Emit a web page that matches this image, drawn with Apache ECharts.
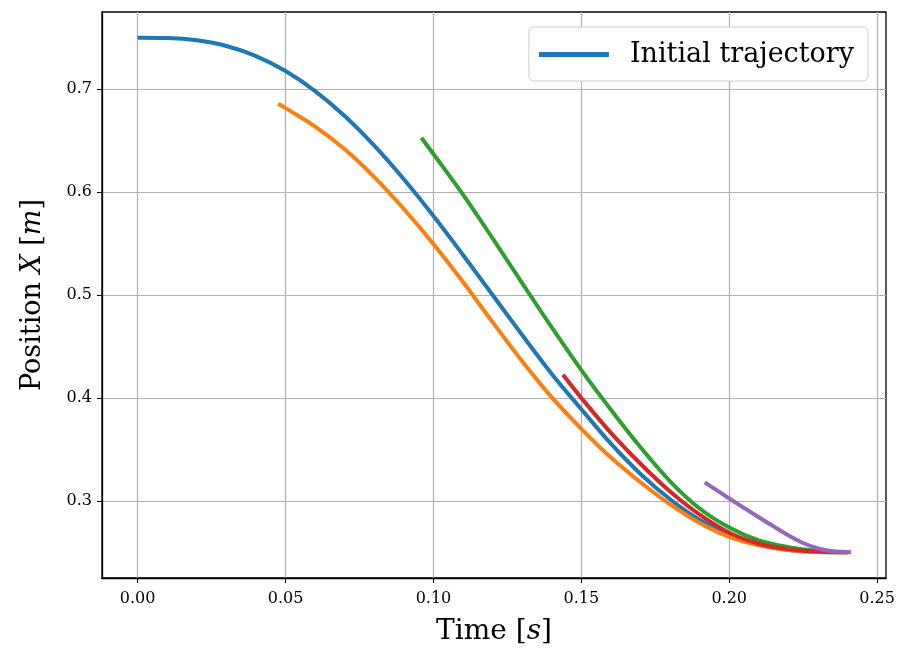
<!DOCTYPE html>
<html>
<head>
<meta charset="utf-8">
<script src="https://cdn.jsdelivr.net/npm/echarts@6/dist/echarts.min.js"></script>
<style>
  html, body { margin: 0; padding: 0; background: #fff; }
  #chart { width: 898px; height: 655px; }
</style>
</head>
<body>
<div id="chart"></div>
<script>
// tick values
const xTicks = [0, 0.05, 0.10, 0.15, 0.20, 0.25];
const yTicks = [0.3, 0.4, 0.5, 0.6, 0.7];

// initial trajectory (blue)
const initT = [0, 0.01, 0.02, 0.03, 0.04, 0.05, 0.06, 0.07, 0.08, 0.09, 0.10, 0.11, 0.12,
  0.13, 0.14, 0.15, 0.16, 0.17, 0.18, 0.19, 0.20, 0.21, 0.22, 0.23, 0.24];
const initX = [0.7500, 0.7497, 0.7475, 0.7420, 0.7322, 0.7177, 0.6982, 0.6739, 0.6451, 0.6124,
  0.5767, 0.5389, 0.5000, 0.4611, 0.4233, 0.3890, 0.3555, 0.3261, 0.3015, 0.2815, 0.2670,
  0.2575, 0.2522, 0.2503, 0.2500];

// replanned trajectories
const replan1T = [0.0475, 0.05, 0.06, 0.07, 0.08, 0.09, 0.10, 0.11, 0.12, 0.13, 0.14, 0.15,
  0.16, 0.17, 0.18, 0.19, 0.20, 0.21, 0.22, 0.23, 0.24];
const replan1X = [0.6858, 0.6816, 0.6636, 0.6416, 0.6146, 0.5836, 0.5496, 0.5126, 0.4736, 0.4356,
  0.4005, 0.3700, 0.3420, 0.3180, 0.2965, 0.2785, 0.2650, 0.2568, 0.2523, 0.2505, 0.2500];

const replan2T = [0.0959, 0.10, 0.11, 0.12, 0.13, 0.14, 0.15, 0.16, 0.17, 0.18, 0.19, 0.20,
  0.21, 0.22, 0.23, 0.24];
const replan2X = [0.6528, 0.6370, 0.5975, 0.5550, 0.5115, 0.4685, 0.4270, 0.3885, 0.3520, 0.3190,
  0.2925, 0.2740, 0.2615, 0.2550, 0.2513, 0.2500];

const replan3T = [0.1438, 0.15, 0.16, 0.17, 0.18, 0.19, 0.20, 0.21, 0.22, 0.23, 0.24];
const replan3X = [0.4225, 0.4000, 0.3660, 0.3360, 0.3090, 0.2865, 0.2690, 0.2583, 0.2530, 0.2508, 0.2500];

const replan4T = [0.1917, 0.20, 0.21, 0.215, 0.22, 0.225, 0.23, 0.235, 0.2412];
const replan4X = [0.3179, 0.3023, 0.2840, 0.2752, 0.2665, 0.2590, 0.2537, 0.2510, 0.2500];

const zip = (ts, xs) => ts.map((t, i) => [t, xs[i]]);

const serif = '"DejaVu Serif", "Liberation Serif", serif';

function lineSeries(name, color, ts, xs) {
  return {
    name: name,
    type: 'line',
    data: zip(ts, xs),
    smooth: 0.35,
    showSymbol: false,
    symbol: 'none',
    lineStyle: { color: color, width: 4, cap: 'butt' },
    itemStyle: { color: color },
    animation: false
  };
}

const chart = echarts.init(document.getElementById('chart'), null, { renderer: 'canvas' });

chart.setOption({
  backgroundColor: '#fff',
  animation: false,
  grid: {
    left: 102, right: 12, top: 12, bottom: 77,
    outerBoundsMode: 'none',
    show: true, borderColor: '#000', borderWidth: 1.3
  },
  legend: {
    data: ['Initial trajectory'],
    right: 30,
    top: 27,
    orient: 'vertical',
    backgroundColor: '#fff',
    borderColor: '#cccccc',
    borderWidth: 1,
    borderRadius: 5,
    padding: [14, 14, 13, 10],
    itemWidth: 70,
    itemHeight: 5,
    icon: 'rect',
    itemGap: 0,
    textStyle: { fontFamily: serif, fontSize: 27, color: '#000', padding: [0, 0, 0, 16] }
  },
  xAxis: {
    type: 'value',
    min: -0.01206,
    max: 0.2530,
    name: 'Time [{it|s}]',
    nameLocation: 'middle',
    nameGap: 40,
    nameTextStyle: {
      fontFamily: serif, fontSize: 28, color: '#000',
      rich: { it: { fontFamily: serif, fontSize: 28, fontStyle: 'italic', color: '#000' } }
    },
    axisLine: { show: true, onZero: false, lineStyle: { color: '#000', width: 1.3 } },
    axisTick: { show: true, length: 5, lineStyle: { color: '#000' }, customValues: xTicks },
    axisLabel: {
      customValues: xTicks,
      fontFamily: serif, fontSize: 16, color: '#000', margin: 13,
      formatter: v => v.toFixed(2)
    },
    splitLine: { show: true, lineStyle: { color: '#b0b0b0', width: 1.2 } }
  },
  yAxis: {
    type: 'value',
    min: 0.225,
    max: 0.775,
    name: 'Position {it|X} [{it|m}]',
    nameLocation: 'middle',
    nameGap: 56,
    nameRotate: 90,
    nameTextStyle: {
      fontFamily: serif, fontSize: 27, color: '#000',
      rich: { it: { fontFamily: serif, fontSize: 27, fontStyle: 'italic', color: '#000' } }
    },
    axisLine: { show: true, onZero: false, lineStyle: { color: '#000', width: 1.3 } },
    axisTick: { show: true, length: 5, lineStyle: { color: '#000' }, customValues: yTicks },
    axisLabel: {
      customValues: yTicks,
      fontFamily: serif, fontSize: 16, color: '#000', margin: 10,
      formatter: v => v.toFixed(1)
    },
    splitLine: { show: true, lineStyle: { color: '#b0b0b0', width: 1.2 } }
  },
  series: [
    lineSeries('Initial trajectory', '#1f77b4', initT, initX),
    lineSeries('Replan 1', '#ff7f0e', replan1T, replan1X),
    lineSeries('Replan 2', '#2ca02c', replan2T, replan2X),
    lineSeries('Replan 3', '#d62728', replan3T, replan3X),
    lineSeries('Replan 4', '#9467bd', replan4T, replan4X)
  ]
});
</script>
</body>
</html>
